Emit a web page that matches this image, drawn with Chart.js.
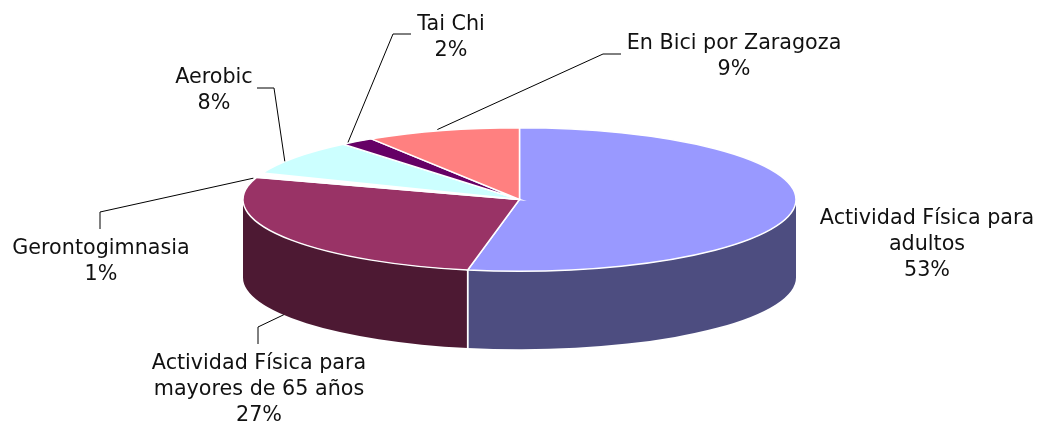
<!DOCTYPE html>
<html><head><meta charset="utf-8">
<script src="https://cdn.jsdelivr.net/npm/chart.js@4/dist/chart.umd.min.js"></script>
<style>html,body{margin:0;padding:0;background:#fff;overflow:hidden}</style>
</head><body>
<canvas id="c" width="1039" height="422"></canvas>
<script>
// ---- data ----
const categories = ["Actividad Física para adultos", "Actividad Física para mayores de 65 años", "Gerontogimnasia", "Aerobic", "Tai Chi", "En Bici por Zaragoza"];
const labelNameLines = [["Actividad Física para", "adultos"], ["Actividad Física para", "mayores de 65 años"], ["Gerontogimnasia"], ["Aerobic"], ["Tai Chi"], ["En Bici por Zaragoza"]];
const values = [53, 27, 1, 8, 2, 9];
const topColors = ["#9999FF", "#993366", "#FFFFFF", "#CCFFFF", "#660066", "#FF8080"];
const sideColors = ["#4D4D80", "#4D1933", "#DDDDDD", "#668080", "#330033", "#804040"];

// ---- label layout (text position, elbow points, anchor tweaks) ----
const labelLayout = [
  { x: 927, y: 224, path: [] },
  { x: 259, y: 369, path: [[258, 344], [258, 327]], anchorR: 0.99, anchorDepth: 1, shift: [0, 1] },
  { x: 101, y: 254, path: [[100, 229], [100, 212]], anchorR: 1.0, anchorDepth: 0, shift: [-6, 3] },
  { x: 214, y: 83, path: [[257, 88], [274, 88]], anchorR: 1.0, anchorDepth: 0, shift: [-11, 4] },
  { x: 451, y: 30, path: [[411, 34], [393, 34]], anchorR: 1.0, anchorDepth: 0, shift: [-9, 1] },
  { x: 734, y: 49, path: [[621, 54], [603, 54]], anchorR: 1.0, anchorDepth: 0, shift: [-5, -1] }
];

const pie3d = {
  id: 'pie3d',
  beforeDatasetsDraw(chart, args, o) {
    const ctx = chart.ctx;
    const arcs = chart.getDatasetMeta(0).data;
    const { cx, cy, rx, ry, depth } = o;
    const P = (a, dy) => [cx + rx * Math.cos(a), cy + ry * Math.sin(a) + (dy || 0)];
    ctx.save();
    // sides (front half only)
    arcs.forEach((arc, i) => {
      const a1 = Math.max(arc.startAngle, 0), a2 = Math.min(arc.endAngle, Math.PI);
      if (a2 <= a1) return;
      ctx.beginPath();
      ctx.ellipse(cx, cy, rx, ry, 0, a1, a2, false);
      const p2 = P(a2, depth);
      ctx.lineTo(p2[0], p2[1]);
      ctx.ellipse(cx, cy + depth, rx, ry, 0, a2, a1, true);
      ctx.closePath();
      ctx.fillStyle = sideColors[i];
      ctx.fill();
    });
    // white separators on sides
    ctx.strokeStyle = '#FFFFFF';
    ctx.lineWidth = 1.5;
    arcs.forEach((arc) => {
      [arc.startAngle, arc.endAngle].forEach(a => {
        if (a > 0.01 && a < Math.PI - 0.01) {
          const t = P(a), b = P(a, depth);
          ctx.beginPath(); ctx.moveTo(t[0], t[1]); ctx.lineTo(b[0], b[1]); ctx.stroke();
        }
      });
    });
    // top faces
    arcs.forEach((arc, i) => {
      ctx.beginPath();
      ctx.moveTo(cx, cy);
      ctx.ellipse(cx, cy, rx, ry, 0, arc.startAngle, arc.endAngle, false);
      ctx.closePath();
      ctx.fillStyle = topColors[i];
      ctx.fill();
      ctx.stroke();
    });
    ctx.restore();
    return false;
  },
  afterDraw(chart, args, o) {
    const ctx = chart.ctx;
    const arcs = chart.getDatasetMeta(0).data;
    const { cx, cy, rx, ry, depth } = o;
    ctx.save();
    ctx.strokeStyle = '#000000';
    ctx.lineWidth = 1;
    ctx.fillStyle = '#111111';
    ctx.font = '20.7px "DejaVu Sans", Verdana, sans-serif';
    ctx.textAlign = 'center';
    ctx.textBaseline = 'alphabetic';
    arcs.forEach((arc, i) => {
      const L = labelLayout[i];
      if (L.path.length) {
        const mid = (arc.startAngle + arc.endAngle) / 2;
        const ax = cx + rx * L.anchorR * Math.cos(mid) + L.shift[0];
        const ay = cy + ry * L.anchorR * Math.sin(mid) + depth * L.anchorDepth + L.shift[1];
        ctx.beginPath();
        ctx.moveTo(L.path[0][0], L.path[0][1]);
        for (let k = 1; k < L.path.length; k++) ctx.lineTo(L.path[k][0], L.path[k][1]);
        ctx.lineTo(ax, ay);
        ctx.stroke();
      }
      const lines = labelNameLines[i].concat([values[i] + '%']);
      lines.forEach((t, k) => ctx.fillText(t, L.x, L.y + k * 26));
    });
    ctx.restore();
  }
};

new Chart(document.getElementById('c'), {
  type: 'pie',
  data: {
    labels: categories,
    datasets: [{ data: values, backgroundColor: topColors, borderColor: '#FFFFFF', borderWidth: 1.5 }]
  },
  options: {
    responsive: false,
    animation: false,
    events: [],
    plugins: {
      legend: { display: false },
      tooltip: { enabled: false },
      pie3d: { cx: 519.5, cy: 199.5, rx: 276.5, ry: 71.8, depth: 78 }
    }
  },
  plugins: [pie3d]
});
</script>
</body></html>
